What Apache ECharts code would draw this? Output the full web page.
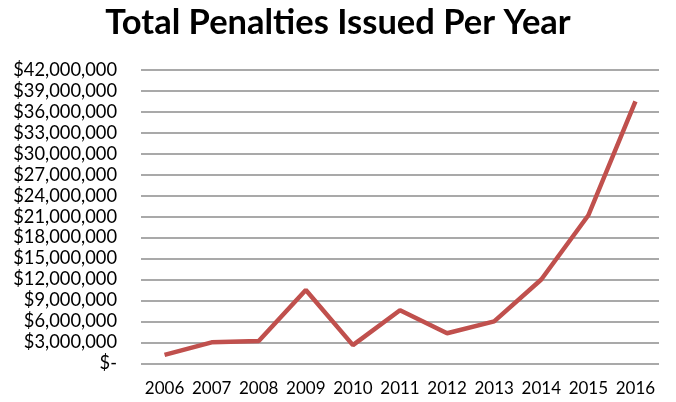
<!DOCTYPE html>
<html><head><meta charset="utf-8">
<script src="https://cdn.jsdelivr.net/npm/echarts@6/dist/echarts.min.js"></script>
<style>html,body{margin:0;padding:0;background:#fff}#c{width:676px;height:402px}</style>
</head><body><div id="c"></div>
<script>
var categories = ['2006','2007','2008','2009','2010','2011','2012','2013','2014','2015','2016'];
var penalties = [1200000, 3000000, 3200000, 10500000, 2600000, 7600000, 4300000, 6000000, 12000000, 21200000, 37500000];
var yMin = 0, yMax = 42000000, yStep = 3000000;
var titleText = 'Total Penalties Issued Per Year';

function fmt(v){
  if (v === 0) return '$-';
  return '$' + v.toString().replace(/\B(?=(\d{3})+(?!\d))/g, ',');
}
var chart = echarts.init(document.getElementById('c'));
chart.setOption({
  animation: false,
  title: {text: titleText, left: 'center', top: 0,
    textStyle: {fontFamily: 'Lato', fontWeight: 'bold', fontSize: 34.5, color: '#000'}},
  grid: {left: 141, right: 17, top: 70, bottom: 38.7},
  xAxis: {type: 'category', data: categories, boundaryGap: true,
    axisLine: {show: false}, axisTick: {show: false},
    axisLabel: {interval: 0, fontFamily: 'Lato', fontSize: 17, color: '#000', margin: 17}},
  yAxis: {type: 'value', min: yMin, max: yMax, interval: yStep,
    axisLine: {show: false}, axisTick: {show: false},
    splitLine: {lineStyle: {color: '#8c8c8c', width: 1.5}},
    axisLabel: {fontFamily: 'Lato', fontSize: 18.3, color: '#000', margin: 24, formatter: fmt}},
  series: [{type: 'line', data: penalties, showSymbol: false,
    lineStyle: {color: '#C0504D', width: 4.5}, itemStyle: {color: '#C0504D'}}]
});
</script></body></html>
